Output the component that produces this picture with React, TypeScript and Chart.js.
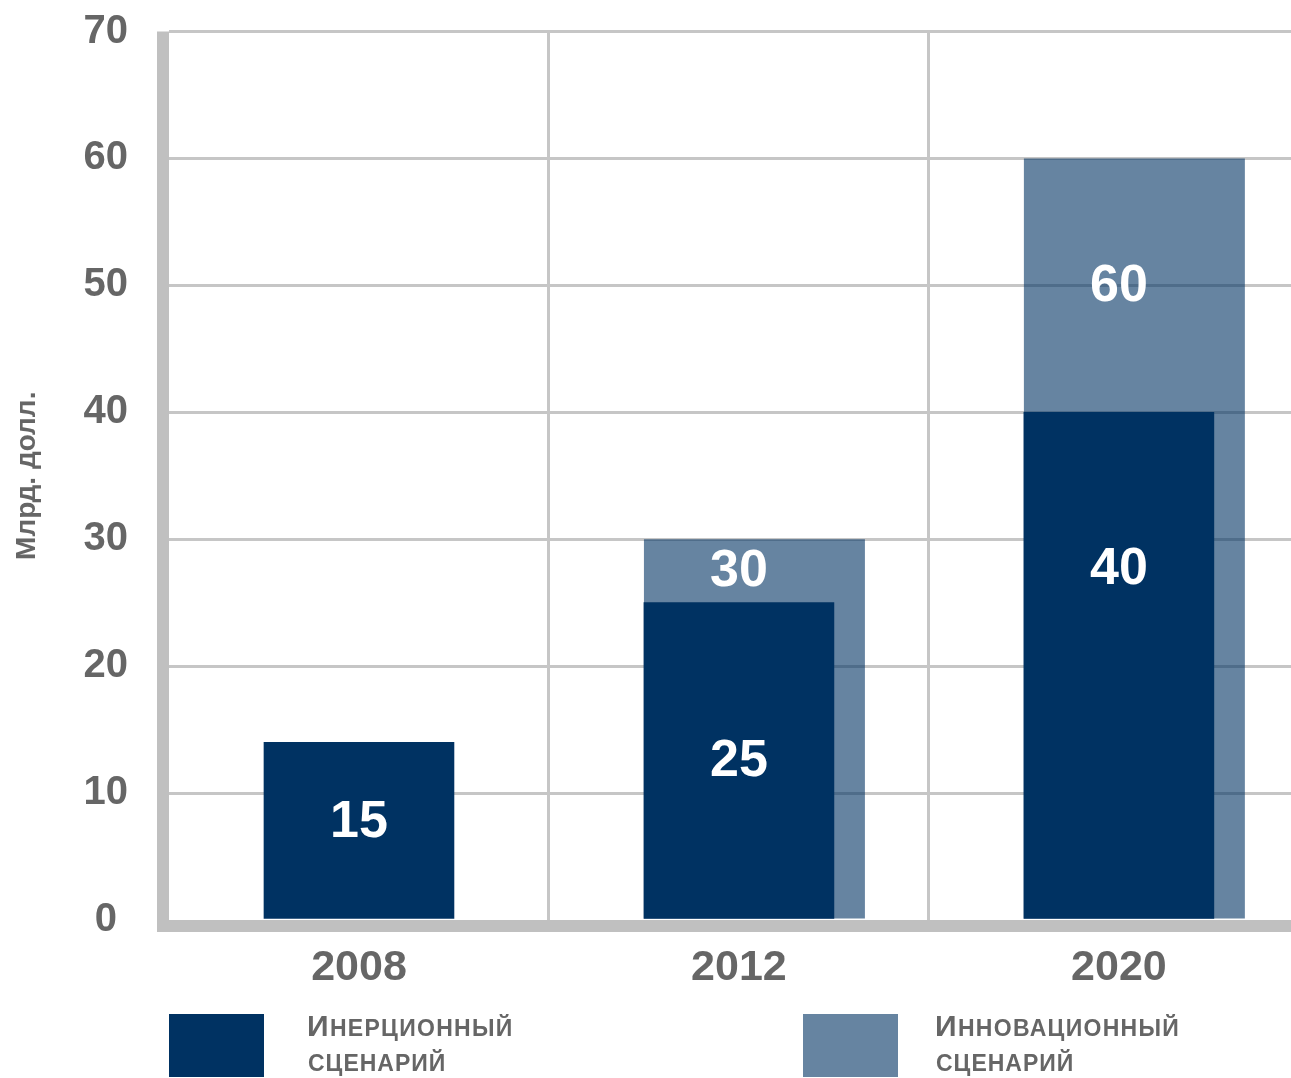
import React, { useEffect, useRef } from 'react';
import { Chart, registerables } from 'chart.js';

Chart.register(...registerables);

// ---- data ----
const YEARS = ['2008', '2012', '2020'];
const INERTIAL = [14, 25, 40];
const INNOVATIVE: (number | null)[] = [null, 30, 60];
const INERTIAL_LABELS = ['15', '25', '40'];
const INNOVATIVE_LABELS: (string | null)[] = [null, '30', '60'];
const SERIES_NAMES = ['Инерционный сценарий', 'Инновационный сценарий'];
const Y_TITLE = 'Млрд. долл.';
const Y_MIN = 0;
const Y_MAX = 70;
const Y_STEP = 10;

// ---- layout / style ----
const W = 1291;
const H = 1078;
const FONT = "'Liberation Sans', Arial, Helvetica, sans-serif";
const DARK = '#003262';
const LIGHT = 'rgba(0,50,98,0.6)';
const GRID = '#c6c6c6';
const AXIS = '#c0c0c0';
const TEXT = '#666666';
const DARK_FRAC = 0.5; // bar width as a fraction of a category
const LIGHT_FRAC = 0.5816;
const X_VISIBLE = 2.953; // categories visible (last one is cut by the edge)
const PLOT_TOP = 31.5;
const PLOT_LEFT = 169;
const X_AXIS_HEIGHT = 158;
// where the value labels sit, in axis units
const INERTIAL_LABEL_AT = [8, 12.8, 27.9];
const INNOVATIVE_LABEL_AT: (number | null)[] = [null, 27.8, 50.2];

const axisLines = {
  id: 'axisLines',
  beforeDatasetsDraw(chart: any) {
    const { ctx, chartArea } = chart;
    const { left, right, top, bottom } = chartArea;
    const t = 12;
    ctx.save();
    ctx.fillStyle = AXIS;
    ctx.fillRect(left - t, top, t, bottom - top + t);
    ctx.fillRect(left - t, bottom, right - left + t, t);
    ctx.restore();
  },
};

const valueLabels = {
  id: 'valueLabels',
  afterDatasetsDraw(chart: any) {
    const { ctx } = chart;
    const xs = chart.scales.x;
    const ys = chart.scales.y;
    const size = 52;
    ctx.save();
    ctx.fillStyle = '#ffffff';
    ctx.font = `bold ${size}px ${FONT}`;
    ctx.textAlign = 'center';
    ctx.textBaseline = 'alphabetic';
    const draw = (txt: string | null, at: number | null, i: number) => {
      if (txt == null || at == null) return;
      const x = xs.getPixelForValue(i + 0.5);
      const y = ys.getPixelForValue(at) + size * 0.358;
      ctx.fillText(txt, x, y);
    };
    YEARS.forEach((_, i) => {
      draw(INERTIAL_LABELS[i], INERTIAL_LABEL_AT[i], i);
      draw(INNOVATIVE_LABELS[i], INNOVATIVE_LABEL_AT[i], i);
    });
    ctx.restore();
  },
};

export default function App() {
  const ref = useRef<HTMLCanvasElement>(null);

  useEffect(() => {
    document.body.style.margin = '0';
    const halfTicks = Array.from({ length: YEARS.length * 2 }, (_, k) => ({ value: k / 2 }));
    const wholeTicks = Array.from({ length: YEARS.length }, (_, k) => ({ value: k }));

    const chart = new Chart(ref.current as HTMLCanvasElement, {
      type: 'bar',
      data: {
        datasets: [
          {
            label: SERIES_NAMES[0],
            data: INERTIAL.map((v, i) => ({ x: i + 0.5, y: v })),
            xAxisID: 'x',
            yAxisID: 'y',
            backgroundColor: DARK,
            borderWidth: 0,
            grouped: false,
            barPercentage: 1,
            categoryPercentage: 1,
          } as any,
          {
            label: SERIES_NAMES[1],
            data: INNOVATIVE.map((v, i) =>
              v == null ? null : { x: i + 0.5 + (LIGHT_FRAC - DARK_FRAC) / 2, y: v }
            ).filter((p) => p != null),
            xAxisID: 'x2',
            yAxisID: 'y',
            backgroundColor: LIGHT,
            borderWidth: 0,
            grouped: false,
            barPercentage: LIGHT_FRAC,
            categoryPercentage: 1,
          } as any,
        ],
      },
      options: {
        responsive: false,
        animation: false,
        devicePixelRatio: 1,
        layout: { padding: 0 },
        plugins: {
          legend: { display: false },
          tooltip: { enabled: false },
        },
        scales: {
          x: {
            type: 'linear',
            position: 'bottom',
            min: 0,
            max: X_VISIBLE,
            offset: false,
            afterBuildTicks: (s: any) => {
              s.ticks = halfTicks.map((t) => ({ ...t }));
            },
            afterFit: (s: any) => {
              s.height = X_AXIS_HEIGHT;
              s.paddingLeft = 0;
              s.paddingRight = 0;
            },
            grid: {
              offset: false,
              drawTicks: false,
              lineWidth: 3,
              color: (c: any) =>
                c.tick && Number.isInteger(c.tick.value) && c.tick.value > 0 ? GRID : 'rgba(0,0,0,0)',
            },
            border: { display: false },
            ticks: {
              autoSkip: false,
              maxRotation: 0,
              minRotation: 0,
              padding: 22,
              color: TEXT,
              font: { family: FONT, size: 43, weight: 'bold' },
              callback: (v: any) => (Number.isInteger(v) ? '' : YEARS[Math.floor(v)]),
            },
          } as any,
          x2: {
            type: 'linear',
            position: 'bottom',
            display: false,
            min: 0,
            max: X_VISIBLE,
            offset: false,
            afterBuildTicks: (s: any) => {
              s.ticks = wholeTicks.map((t) => ({ ...t }));
            },
            grid: { offset: false },
          } as any,
          y: {
            type: 'linear',
            position: 'left',
            min: Y_MIN,
            max: Y_MAX,
            afterFit: (s: any) => {
              s.width = PLOT_LEFT;
              s.paddingTop = PLOT_TOP;
              s.paddingBottom = 0;
            },
            grid: {
              drawTicks: false,
              lineWidth: 3,
              color: (c: any) => (c.tick && c.tick.value === 0 ? 'rgba(0,0,0,0)' : GRID),
            },
            border: { display: false },
            ticks: {
              stepSize: Y_STEP,
              padding: 41,
              crossAlign: 'center',
              color: TEXT,
              font: { family: FONT, size: 40, weight: 'bold' },
            },
            title: {
              display: true,
              text: Y_TITLE,
              color: TEXT,
              font: { family: FONT, size: 28, weight: 'bold' },
              padding: { top: 10, bottom: 0 },
            },
          } as any,
        },
      },
      plugins: [axisLines, valueLabels],
    });
    return () => chart.destroy();
  }, []);

  const legendItems = [
    { name: SERIES_NAMES[0], color: DARK, boxLeft: 169, textLeft: 307 },
    { name: SERIES_NAMES[1], color: LIGHT, boxLeft: 803, textLeft: 935 },
  ];

  return (
    <div style={{ position: 'relative', width: W, height: H, overflow: 'hidden', fontFamily: FONT }}>
      <canvas ref={ref} width={W} height={H} style={{ display: 'block', width: W, height: H }} />
      {legendItems.map((it) => {
        const [first, second] = it.name.split(' ');
        return (
          <React.Fragment key={it.name}>
            <div
              style={{
                position: 'absolute',
                left: it.boxLeft,
                top: 1014,
                width: 95,
                height: 63,
                background: it.color,
              }}
            />
            <div
              style={{
                position: 'absolute',
                left: it.textLeft,
                top: 1011,
                fontSize: 30,
                lineHeight: '30px',
                fontWeight: 'bold',
                color: TEXT,
                letterSpacing: 1.3,
                whiteSpace: 'nowrap',
              }}
            >
              {first.charAt(0).toUpperCase()}
              <span style={{ fontSize: 23 }}>{first.slice(1).toUpperCase()}</span>
            </div>
            <div
              style={{
                position: 'absolute',
                left: it.textLeft + 1,
                top: 1052,
                fontSize: 23,
                lineHeight: '23px',
                fontWeight: 'bold',
                color: TEXT,
                letterSpacing: 1,
                whiteSpace: 'nowrap',
              }}
            >
              {second.toUpperCase()}
            </div>
          </React.Fragment>
        );
      })}
    </div>
  );
}
